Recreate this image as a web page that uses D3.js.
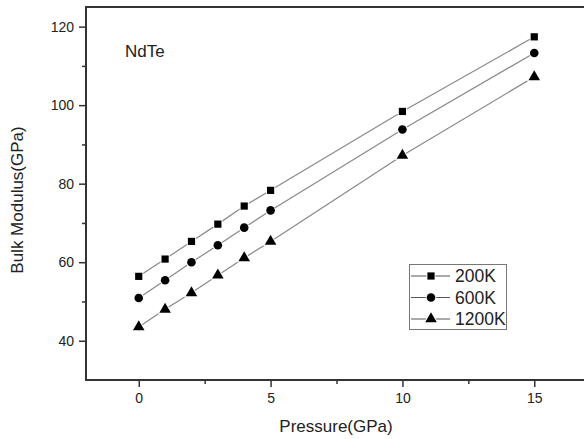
<!DOCTYPE html>
<html><head><meta charset="utf-8">
<script src="https://cdn.jsdelivr.net/npm/d3@7"></script>
<style>body{margin:0;background:#fff;overflow:hidden}svg{display:block;font-family:"Liberation Sans",Arial,sans-serif}</style>
</head><body><svg id="c" width="584" height="439"></svg>
<script>
const pressure = [0, 1, 2, 3, 4, 5, 10, 15];
const seriesNames = ["200K", "600K", "1200K"];
const k200 = [56.4, 60.8, 65.3, 69.7, 74.3, 78.3, 98.4, 117.4];
const k600 = [50.9, 55.4, 60.0, 64.3, 68.8, 73.2, 93.8, 113.3];
const k1200 = [43.5, 48.0, 52.2, 56.7, 61.1, 65.3, 87.2, 107.2];
const xTicks = [0, 5, 10, 15];
const yTicks = [40, 60, 80, 100, 120];
const xMinor = [2.5, 7.5, 12.5];
const yMinor = [50, 70, 90, 110];

const series = [k200, k600, k1200];
const symbols = [d3.symbolSquare, d3.symbolCircle, d3.symbolTriangle];
const symSize = [52, 58, 58];

const svg = d3.select("#c");
const L = 86, T = 7, B = 380;
const x = d3.scaleLinear().domain([-2, 17]).range([L, 587]);
const y = d3.scaleLinear().domain([30, 125]).range([B, T]);

const axisCol = "#333";
// minor ticks
svg.append("g").attr("transform", `translate(0,${B})`)
  .call(d3.axisBottom(x).tickValues(xMinor).tickSize(4).tickFormat(""))
  .call(g => g.select(".domain").remove())
  .call(g => g.selectAll("line").attr("stroke", axisCol).attr("stroke-width", 1.5));
svg.append("g").attr("transform", `translate(${L},0)`)
  .call(d3.axisLeft(y).tickValues(yMinor).tickSize(4).tickFormat(""))
  .call(g => g.select(".domain").remove())
  .call(g => g.selectAll("line").attr("stroke", axisCol).attr("stroke-width", 1.5));
// major
svg.append("g").attr("transform", `translate(0,${B})`)
  .call(d3.axisBottom(x).tickValues(xTicks).tickSize(7).tickPadding(6).tickFormat(d3.format("d")))
  .call(g => g.select(".domain").remove())
  .call(g => g.selectAll("line").attr("stroke", axisCol).attr("stroke-width", 1.5))
  .call(g => g.selectAll("text").attr("fill", "#222").attr("font-size", 14).attr("font-family", "Liberation Sans, Arial"));
svg.append("g").attr("transform", `translate(${L},0)`)
  .call(d3.axisLeft(y).tickValues(yTicks).tickSize(7).tickPadding(5).tickFormat(d3.format("d")))
  .call(g => g.select(".domain").remove())
  .call(g => g.selectAll("line").attr("stroke", axisCol).attr("stroke-width", 1.5))
  .call(g => g.selectAll("text").attr("fill", "#222").attr("font-size", 14).attr("font-family", "Liberation Sans, Arial"));

// frame: top, left and bottom edges as separate lines (no right edge)
const frame = svg.append("g").attr("stroke", axisCol).attr("stroke-width", 2).attr("stroke-linecap", "square");
frame.append("line").attr("x1", L).attr("x2", 584).attr("y1", T).attr("y2", T);
frame.append("line").attr("x1", L).attr("x2", 584).attr("y1", B).attr("y2", B);
frame.append("line").attr("x1", L).attr("x2", L).attr("y1", T).attr("y2", B);

const line = d3.line().x((d, i) => x(pressure[i])).y(d => y(d));
series.forEach((s, k) => {
  svg.append("path").datum(s).attr("d", line)
    .attr("fill", "none").attr("stroke", "#888").attr("stroke-width", 1.2);
});
series.forEach((s, k) => {
  svg.append("g").selectAll("path").data(s).join("path")
    .attr("transform", (d, i) => `translate(${x(pressure[i])},${y(d)})`)
    .attr("d", d3.symbol(symbols[k], symSize[k]))
    .attr("fill", "#000").attr("stroke", "#fff").attr("stroke-width", 2)
    .attr("paint-order", "stroke");
});

// labels
svg.append("text").attr("x", 125).attr("y", 57).attr("font-size", 17).attr("fill", "#222").text("NdTe");
svg.append("text").attr("x", 336).attr("y", 432).attr("text-anchor", "middle")
  .attr("font-size", 17).attr("fill", "#222").text("Pressure(GPa)");
svg.append("text").attr("transform", `translate(23,200) rotate(-90)`)
  .attr("text-anchor", "middle").attr("font-size", 17).attr("fill", "#222").text("Bulk Modulus(GPa)");

// legend
const lg = svg.append("g");
lg.append("rect").attr("x", 409.5).attr("y", 264.5).attr("width", 97).attr("height", 65)
  .attr("fill", "#fff").attr("stroke", "#777").attr("stroke-width", 1);
seriesNames.forEach((n, k) => {
  const yy = 276 + k * 21.5;
  lg.append("line").attr("x1", 411).attr("x2", 450).attr("y1", yy).attr("y2", yy)
    .attr("stroke", "#555").attr("stroke-width", 1.2);
  lg.append("path").attr("transform", `translate(431,${yy})`)
    .attr("d", d3.symbol(symbols[k], symSize[k]))
    .attr("fill", "#000").attr("stroke", "#fff").attr("stroke-width", 2).attr("paint-order", "stroke");
  lg.append("text").attr("x", 455).attr("y", yy + 6).attr("font-size", 17.5).attr("fill", "#222").text(n);
});
</script></body></html>
